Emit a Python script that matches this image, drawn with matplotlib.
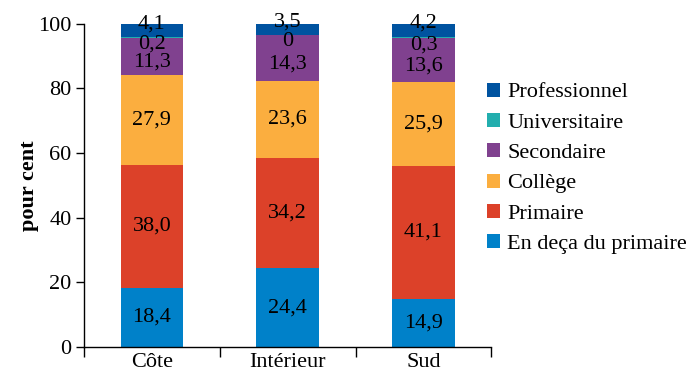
import matplotlib.pyplot as plt
import numpy as np

plt.rcParams['font.family'] = ['Liberation Serif', 'DejaVu Serif']

regions = ["Côte", "Intérieur", "Sud"]
levels = ["En deça du primaire", "Primaire", "Collège", "Secondaire",
          "Universitaire", "Professionnel"]
en_deca = [18.4, 24.4, 14.9]
primaire = [38.0, 34.2, 41.1]
college = [27.9, 23.6, 25.9]
secondaire = [11.3, 14.3, 13.6]
universitaire = [0.2, 0.0, 0.3]
professionnel = [4.1, 3.5, 4.2]
labels = [["18,4", "24,4", "14,9"],
          ["38,0", "34,2", "41,1"],
          ["27,9", "23,6", "25,9"],
          ["11,3", "14,3", "13,6"],
          ["0,2", "0", "0,3"],
          ["4,1", "3,5", "4,2"]]

colors = ["#0081c9", "#dc4129", "#fbae3f", "#80418f", "#22aeae", "#0053a0"]
# label nudges for the crowded top segments
nudge = [0, 0, 0, -1.8, 0, 2.2]

series = [en_deca, primaire, college, secondaire, universitaire, professionnel]
fs = 16

fig = plt.figure(figsize=(6.94, 3.78), dpi=100)
ax = fig.add_axes([0.121, 0.082, 0.587, 0.855])

x = np.arange(len(regions))
bottom = np.zeros(len(regions))
handles = []
for i, vals in enumerate(series):
    vals = np.array(vals)
    b = ax.bar(x, vals, 0.46, bottom=bottom, color=colors[i], label=levels[i],
               clip_on=False, zorder=2)
    handles.append(b)
    for j in range(len(regions)):
        y = bottom[j] + vals[j] / 2 + nudge[i]
        if i == 4:
            y = bottom[j] - 2.0
        ax.text(x[j], y, labels[i][j], ha="center", va="center",
                fontsize=fs, color="black", zorder=3)
    bottom += vals

ax.set_xlim(-0.5, 2.5)
ax.set_ylim(0, 100)
ax.set_yticks([0, 20, 40, 60, 80, 100])
ax.set_xticks(x)
ax.set_xticklabels(regions)
ax.set_xticks([-0.5, 0.5, 1.5, 2.5], minor=True)
ax.tick_params(axis="x", which="major", length=0, labelsize=fs, pad=4)
ax.tick_params(axis="x", which="minor", length=7, width=1, direction="out")
ax.tick_params(axis="y", length=6, width=1, direction="out", labelsize=fs, pad=3)

for s in ["top", "right"]:
    ax.spines[s].set_visible(False)
for s in ["left", "bottom"]:
    ax.spines[s].set_linewidth(1)

ax.set_ylabel("pour cent", fontsize=fs, fontweight="bold", labelpad=-1)

fig.legend(handles[::-1], levels[::-1], loc="upper left",
           bbox_to_anchor=(0.689, 0.805), frameon=False, fontsize=fs,
           handlelength=0.6, handleheight=0.6, handletextpad=0.3,
           labelspacing=0.47, borderaxespad=0)

fig.savefig("out.png", dpi=100)
